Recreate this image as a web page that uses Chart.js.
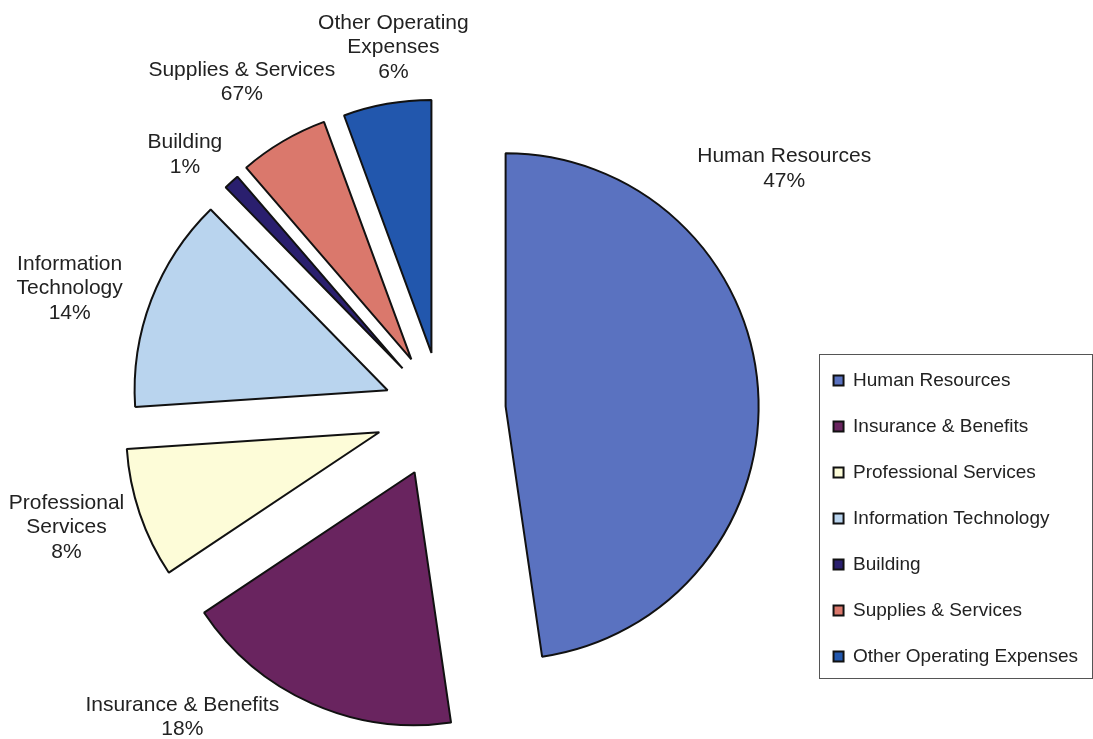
<!DOCTYPE html>
<html>
<head>
<meta charset="utf-8">
<script src="https://cdn.jsdelivr.net/npm/chart.js@4.4.1/dist/chart.umd.min.js"></script>
<style>
  html, body { margin: 0; padding: 0; background: #fff; }
  #wrap { width: 1093px; height: 739px; }
</style>
</head>
<body>
<div id="wrap"><canvas id="pie"></canvas></div>
<script>
// Budget shares, clockwise from 12 o'clock
const categories = ['Human Resources', 'Insurance & Benefits', 'Professional Services', 'Information Technology', 'Building', 'Supplies & Services', 'Other Operating Expenses'];
const shares = [47.6, 17.9, 8.3, 13.7, 1.0, 5.7, 5.6];
// percent text as printed on the original (Supplies reads 67% there)
const pctLabels = ['47%', '18%', '8%', '14%', '1%', '67%', '6%'];
const labelNames = [['Human Resources'], ['Insurance & Benefits'], ['Professional', 'Services'], ['Information', 'Technology'], ['Building'], ['Supplies & Services'], ['Other Operating', 'Expenses']];

const colors = ['#5a72c0', '#69245f', '#fdfcd8', '#b9d4ee', '#2a1f6e', '#da786c', '#2257ad'];
const explode = [64, 67, 66, 58, 58, 60, 59];
// where the label sits compared with the slice middle
const labelRot = [-36.3, 19.5, 1.8, -3.2, -3, -1, 3];
const labelGap = [31, 0, 8, 19, 8, 2, 9];

const FONT = 'Arial, "Liberation Sans", sans-serif';
Chart.defaults.font.family = FONT;

// push each slice out along its middle angle
const explodePlugin = {
  id: 'explode',
  afterUpdate(chart) {
    const meta = chart.getDatasetMeta(0);
    meta.data.forEach((arc, i) => {
      const mid = (arc.startAngle + arc.endAngle) / 2;
      arc.x += Math.cos(mid) * explode[i];
      arc.y += Math.sin(mid) * explode[i];
    });
  }
};

const sliceLabels = {
  id: 'sliceLabels',
  afterDatasetsDraw(chart) {
    const ctx = chart.ctx;
    const meta = chart.getDatasetMeta(0);
    const lh = 24.5;
    ctx.save();
    ctx.font = '21px ' + FONT;
    ctx.fillStyle = '#222';
    ctx.textAlign = 'center';
    ctx.textBaseline = 'middle';
    meta.data.forEach((arc, i) => {
      const lines = labelNames[i].concat(pctLabels[i]);
      const w = Math.max(...lines.map(t => ctx.measureText(t).width));
      const h = lines.length * lh;
      const a = (arc.startAngle + arc.endAngle) / 2 + labelRot[i] * Math.PI / 180;
      const c = Math.cos(a), s = Math.sin(a);
      const ext = Math.abs(c) * w / 2 + Math.abs(s) * h / 2;
      const d = arc.outerRadius + labelGap[i] + ext;
      const cx = arc.x + c * d, cy = arc.y + s * d;
      lines.forEach((t, k) => ctx.fillText(t, cx, cy - h / 2 + lh * (k + 0.5)));
    });
    ctx.restore();
  }
};

const legendFrame = {
  id: 'legendFrame',
  afterDraw(chart) {
    const lg = chart.legend;
    if (!lg || !lg.columnSizes) return;
    const pad = lg.options.labels.padding;
    const left = lg.left + pad - 15;
    const top = lg.bottom - lg.columnSizes[0].height - 17;
    const bottom = lg.bottom - pad + 12;
    const right = chart.width - 1.5;
    const ctx = chart.ctx;
    ctx.save();
    ctx.strokeStyle = '#555';
    ctx.lineWidth = 1;
    ctx.strokeRect(Math.round(left) + 0.5, Math.round(top) + 0.5, Math.round(right - left), Math.round(bottom - top));
    ctx.restore();
  }
};

new Chart(document.getElementById('pie'), {
  type: 'pie',
  data: {
    labels: categories,
    datasets: [{
      data: shares,
      backgroundColor: colors,
      borderColor: '#111',
      borderWidth: 2,
      radius: 253,
      clip: false
    }]
  },
  options: {
    responsive: true,
    maintainAspectRatio: false,
    animation: false,
    rotation: 0,
    layout: { padding: { left: 77, right: 5, top: 129, bottom: 46 } },
    plugins: {
      legend: {
        position: 'right',
        align: 'end',
        labels: {
          boxWidth: 10,
          boxHeight: 10,
          padding: 27,
          color: '#222',
          font: { size: 19, family: FONT }
        }
      },
      tooltip: { enabled: false }
    }
  },
  plugins: [explodePlugin, sliceLabels, legendFrame]
});
</script>
</body>
</html>
